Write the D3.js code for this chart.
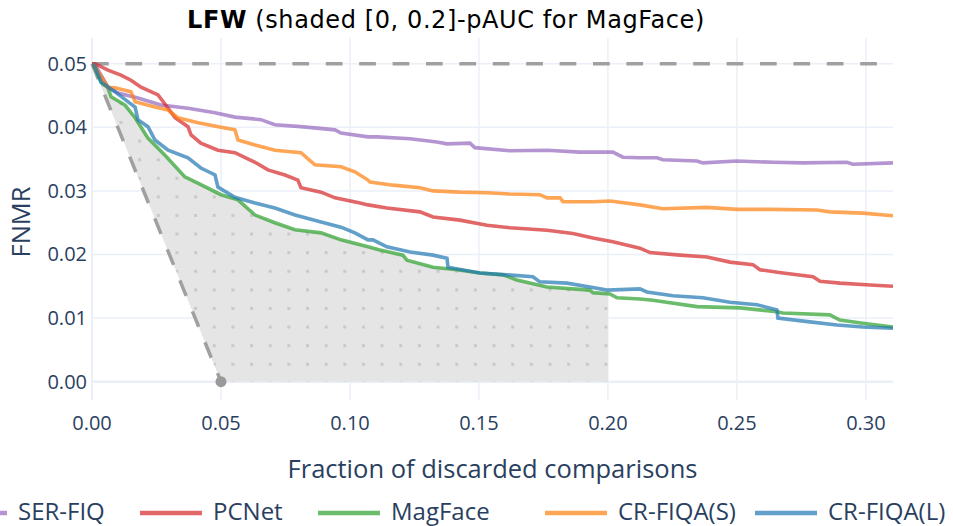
<!DOCTYPE html>
<html>
<head>
<meta charset="utf-8">
<script src="https://cdn.jsdelivr.net/npm/d3@7"></script>
<style>
  body { margin: 0; background: #fff; }
  svg text { font-family: "Open Sans", sans-serif; }
</style>
</head>
<body>
<svg id="chart" width="953" height="526"></svg>
<script>
// curves: [fraction discarded, FNMR]
var serfiq = [[0,0.05],[0.0012,0.0498],[0.0062,0.0463],[0.0101,0.0454],[0.0178,0.0446],[0.0267,0.0435],[0.0372,0.0430],[0.0477,0.0423],[0.0554,0.0416],[0.0655,0.0412],[0.0709,0.0404],[0.0810,0.0401],[0.0942,0.0396],[0.0965,0.0391],[0.1070,0.0385],[0.1105,0.0385],[0.1233,0.0382],[0.1337,0.0377],[0.1376,0.0374],[0.1465,0.0375],[0.1484,0.0368],[0.1620,0.0363],[0.1764,0.0364],[0.1891,0.0361],[0.2019,0.0361],[0.2058,0.0353],[0.2124,0.0352],[0.2190,0.0352],[0.2213,0.0349],[0.2345,0.0347],[0.2368,0.0344],[0.2500,0.0347],[0.2640,0.0345],[0.2756,0.0344],[0.2926,0.0345],[0.2950,0.0342],[0.3105,0.0344]];
var pcnet = [[0,0.05],[0.0012,0.0500],[0.0062,0.0490],[0.0112,0.0482],[0.0151,0.0474],[0.0190,0.0463],[0.0256,0.0451],[0.0295,0.0430],[0.0322,0.0415],[0.0372,0.0401],[0.0384,0.0388],[0.0422,0.0375],[0.0488,0.0364],[0.0554,0.0360],[0.0632,0.0345],[0.0682,0.0333],[0.0748,0.0325],[0.0798,0.0317],[0.0810,0.0305],[0.0888,0.0298],[0.0942,0.0289],[0.1039,0.0281],[0.1070,0.0278],[0.1143,0.0273],[0.1271,0.0267],[0.1322,0.0259],[0.1426,0.0254],[0.1531,0.0246],[0.1620,0.0242],[0.1764,0.0238],[0.1864,0.0233],[0.1942,0.0226],[0.2019,0.0220],[0.2124,0.0210],[0.2163,0.0203],[0.2279,0.0199],[0.2384,0.0196],[0.2473,0.0188],[0.2562,0.0184],[0.2589,0.0176],[0.2678,0.0171],[0.2795,0.0165],[0.2822,0.0158],[0.2899,0.0155],[0.3016,0.0152],[0.3105,0.0150]];
var magface = [[0,0.05],[0.0012,0.0493],[0.0035,0.0471],[0.0062,0.0462],[0.0074,0.0448],[0.0128,0.0435],[0.0167,0.0415],[0.0217,0.0383],[0.0283,0.0356],[0.0360,0.0322],[0.0422,0.0310],[0.0500,0.0294],[0.0566,0.0286],[0.0632,0.0262],[0.0709,0.0250],[0.0787,0.0239],[0.0888,0.0234],[0.0965,0.0223],[0.1070,0.0212],[0.1116,0.0207],[0.1205,0.0199],[0.1221,0.0191],[0.1322,0.0180],[0.1415,0.0176],[0.1504,0.0171],[0.1593,0.0168],[0.1647,0.0160],[0.1764,0.0149],[0.1930,0.0144],[0.1942,0.0140],[0.2008,0.0138],[0.2035,0.0132],[0.2124,0.0130],[0.2174,0.0128],[0.2345,0.0118],[0.2512,0.0116],[0.2655,0.0110],[0.2678,0.0108],[0.2860,0.0105],[0.2899,0.0097],[0.2988,0.0092],[0.3105,0.0086]];
var crfiqaS = [[0,0.05],[0.0012,0.0495],[0.0062,0.0463],[0.0089,0.0462],[0.0151,0.0456],[0.0167,0.0440],[0.0244,0.0432],[0.0295,0.0427],[0.0333,0.0415],[0.0411,0.0407],[0.0500,0.0400],[0.0554,0.0396],[0.0566,0.0380],[0.0632,0.0372],[0.0709,0.0364],[0.0810,0.0360],[0.0864,0.0341],[0.0965,0.0338],[0.1019,0.0330],[0.1070,0.0317],[0.1078,0.0314],[0.1167,0.0309],[0.1271,0.0305],[0.1322,0.0300],[0.1426,0.0298],[0.1531,0.0297],[0.1620,0.0295],[0.1736,0.0294],[0.1764,0.0289],[0.1814,0.0289],[0.1826,0.0283],[0.1942,0.0283],[0.2008,0.0284],[0.2124,0.0278],[0.2213,0.0272],[0.2384,0.0274],[0.2500,0.0271],[0.2628,0.0271],[0.2810,0.0270],[0.2860,0.0267],[0.2988,0.0265],[0.3105,0.0261]];
var crfiqaL = [[0,0.05],[0.0012,0.0495],[0.0035,0.0471],[0.0089,0.0456],[0.0140,0.0440],[0.0167,0.0432],[0.0178,0.0412],[0.0217,0.0401],[0.0244,0.0380],[0.0295,0.0364],[0.0372,0.0352],[0.0422,0.0336],[0.0477,0.0325],[0.0488,0.0306],[0.0554,0.0290],[0.0632,0.0281],[0.0709,0.0273],[0.0787,0.0262],[0.0888,0.0251],[0.0965,0.0243],[0.1019,0.0234],[0.1070,0.0223],[0.1089,0.0223],[0.1143,0.0212],[0.1233,0.0204],[0.1322,0.0199],[0.1376,0.0194],[0.1380,0.0180],[0.1504,0.0171],[0.1609,0.0168],[0.1709,0.0165],[0.1736,0.0157],[0.1841,0.0155],[0.1930,0.0149],[0.1996,0.0144],[0.2124,0.0146],[0.2151,0.0141],[0.2252,0.0135],[0.2368,0.0132],[0.2473,0.0125],[0.2578,0.0121],[0.2655,0.0113],[0.2659,0.0100],[0.2783,0.0094],[0.2888,0.0089],[0.2988,0.0086],[0.3105,0.0084]];

var names = ["SER-FIQ", "PCNet", "MagFace", "CR-FIQA(S)", "CR-FIQA(L)"];
var colors = ["#9467bd", "#d62728", "#2ca02c", "#ff7f0e", "#1f77b4"];
var series = [serfiq, pcnet, magface, crfiqaS, crfiqaL];
var xTicks = [0, 0.05, 0.1, 0.15, 0.2, 0.25, 0.3];
var yTicks = [0, 0.01, 0.02, 0.03, 0.04, 0.05];
var startFnmr = 0.05, pAucEnd = 0.2;

var margin = {top: 38, left: 92, right: 60, bottom: 126};
var W = 953, H = 526;
var svg = d3.select("#chart");

var x = d3.scaleLinear().domain([0, 0.3105]).range([margin.left, W - margin.right]);
var y = d3.scaleLinear().domain([-0.00288, 0.05404]).range([H - margin.bottom, margin.top]);

// dotted pattern for the shaded pAUC
var defs = svg.append("defs");
var pat = defs.append("pattern").attr("id", "dots").attr("patternUnits", "userSpaceOnUse")
    .attr("width", 18.65).attr("height", 18.6).attr("x", 7.6).attr("y", 9.4);
pat.append("rect").attr("width", 18.65).attr("height", 18.6).attr("fill", "#e5e5e5");
pat.append("rect").attr("x", 0).attr("y", 0).attr("width", 3).attr("height", 3).attr("fill", "#c9c9c9");
defs.append("clipPath").attr("id", "plotclip").append("rect")
    .attr("x", margin.left).attr("y", margin.top)
    .attr("width", W - margin.right - margin.left).attr("height", H - margin.bottom - margin.top);

// grid
var grid = svg.append("g");
grid.selectAll(".vg").data(xTicks).enter().append("line")
    .attr("x1", d => x(d)).attr("x2", d => x(d))
    .attr("y1", margin.top).attr("y2", H - margin.bottom)
    .attr("stroke", "#ebf0f8").attr("stroke-width", d => d == 0 ? 2 : 1.5);
grid.selectAll(".hg").data(yTicks).enter().append("line")
    .attr("y1", d => y(d)).attr("y2", d => y(d))
    .attr("x1", margin.left).attr("x2", W - margin.right)
    .attr("stroke", "#ebf0f8").attr("stroke-width", d => d == 0 ? 2.5 : 1.5);

// shaded area under MagFace up to 0.2
var shade = magface.filter(d => d[0] <= pAucEnd);
var last = shade[shade.length - 1];
shade.push([pAucEnd, last[1]]);
shade.push([pAucEnd, 0]);
shade.push([startFnmr, 0]);
svg.append("path").attr("d", d3.line().x(d => x(d[0])).y(d => y(d[1]))(shade) + "Z")
    .attr("fill", "url(#dots)");

// reference lines
svg.append("line").attr("x1", x(0)).attr("x2", x(0.3105)).attr("y1", y(startFnmr)).attr("y2", y(startFnmr))
    .attr("stroke", "#a0a0a0").attr("stroke-width", 3.5).attr("stroke-dasharray", "16.7,16.7");
svg.append("line").attr("x1", x(0)).attr("x2", x(startFnmr)).attr("y1", y(startFnmr)).attr("y2", y(0))
    .attr("stroke", "#a0a0a0").attr("stroke-width", 3.5).attr("stroke-dasharray", "16.7,16.7");
svg.append("circle").attr("cx", x(startFnmr)).attr("cy", y(0)).attr("r", 5.5).attr("fill", "#9a9a9a");

// curves
var line = d3.line().x(d => x(d[0])).y(d => y(d[1]));
svg.append("g").attr("clip-path", "url(#plotclip)").selectAll(".curve").data(series).enter().append("path")
    .attr("d", line).attr("fill", "none")
    .attr("stroke", (d, i) => colors[i]).attr("stroke-opacity", 0.7)
    .attr("stroke-width", 3.6).attr("stroke-linejoin", "miter");

// tick labels
var tickColor = "#2a3f5f";
svg.selectAll(".xt").data(xTicks).enter().append("text")
    .attr("x", d => x(d)).attr("y", 430).attr("text-anchor", "middle")
    .attr("font-size", 20).attr("fill", tickColor).text(d3.format(".2f"));
svg.selectAll(".yt").data(yTicks).enter().append("text")
    .attr("x", 87).attr("y", d => y(d) + 7).attr("text-anchor", "end")
    .attr("font-size", 20).attr("fill", tickColor).text(d3.format(".2f"));

// axis titles
svg.append("text").attr("x", (x(0) + x(0.3105)) / 2).attr("y", 478).attr("text-anchor", "middle")
    .attr("font-size", 25.5).attr("fill", tickColor).text("Fraction of discarded comparisons");
svg.append("text").attr("transform", "translate(30,222) rotate(-90)").attr("text-anchor", "middle")
    .attr("font-size", 25.5).attr("fill", tickColor).text("FNMR");

// title
var title = svg.append("text").attr("x", 446).attr("y", 28).attr("text-anchor", "middle")
    .attr("font-size", 24).attr("letter-spacing", 0.6).attr("fill", "#000")
    .style("font-family", "'DejaVu Sans', sans-serif");
title.append("tspan").attr("font-weight", "bold").text("LFW");
title.append("tspan").text(" (shaded [0, 0.2]-pAUC for MagFace)");

// legend (overflows the page like the original)
var legX = [-55, 140, 318, 545, 755];
var leg = svg.selectAll(".leg").data(names).enter().append("g")
    .attr("transform", (d, i) => "translate(" + legX[i] + ",513)");
leg.append("line").attr("x1", 0).attr("x2", 62).attr("y1", 0).attr("y2", 0)
    .attr("stroke", (d, i) => colors[i]).attr("stroke-opacity", 0.7).attr("stroke-width", 4.5);
leg.append("text").attr("x", 73).attr("y", 7).attr("font-size", 24).attr("fill", tickColor).text(d => d);
</script>
</body>
</html>
